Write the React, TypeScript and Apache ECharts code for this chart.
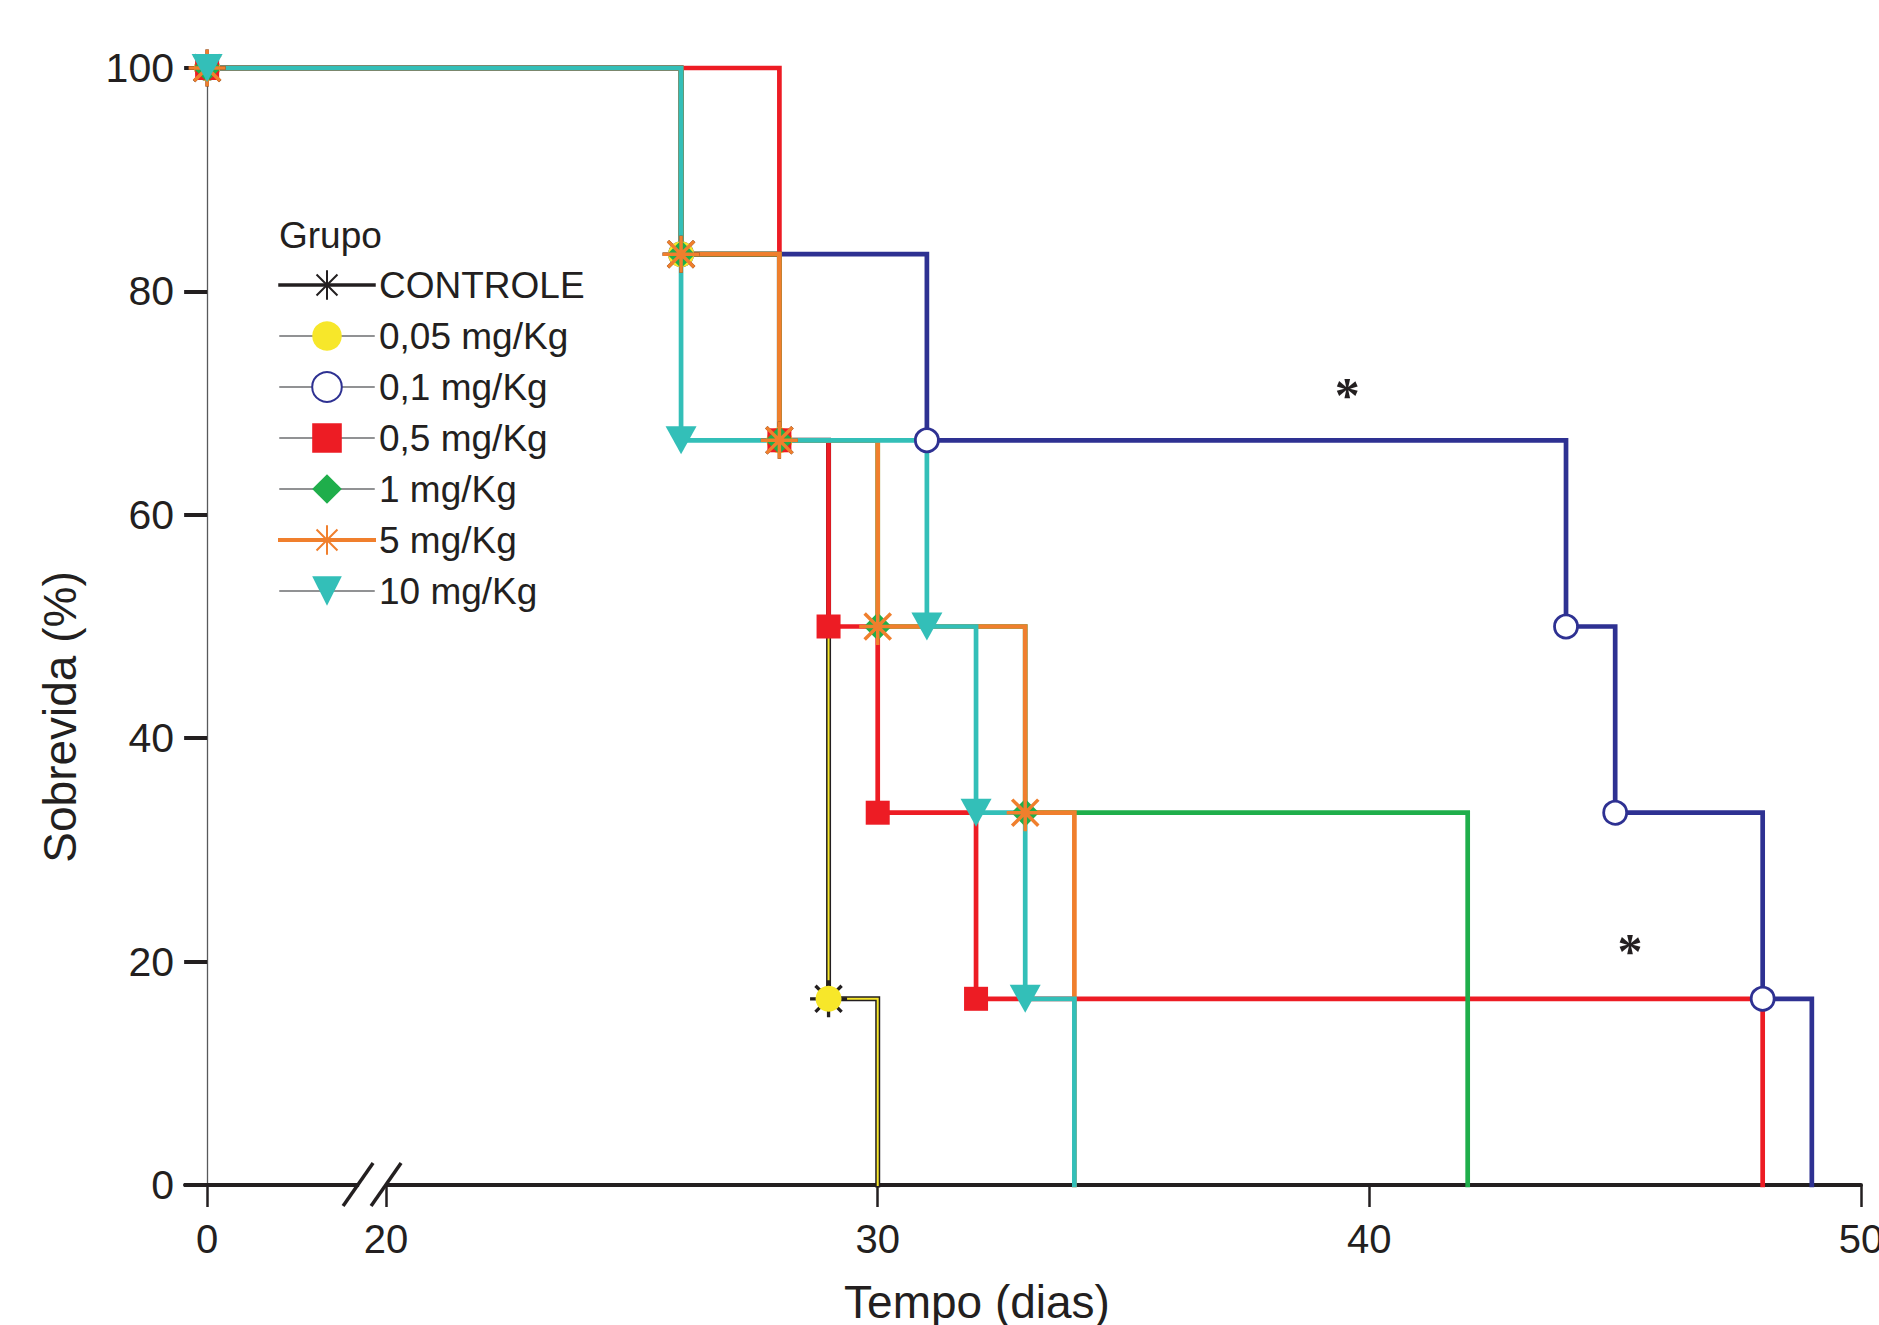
import React, { useEffect, useRef } from "react";
import * as echarts from "echarts";

// ---------- data ----------
const groupNames = ["CONTROLE", "0,05 mg/Kg", "0,1 mg/Kg", "0,5 mg/Kg", "1 mg/Kg", "5 mg/Kg", "10 mg/Kg"];

const controleDays = [0, 26, 28, 29, 30];
const controleSurv = [100, 83.33, 66.67, 16.67, 0];
const dose005Days = [0, 26, 28, 29, 30];
const dose005Surv = [100, 83.33, 66.67, 16.67, 0];
const dose01Days = [0, 26, 31, 44, 45, 48, 49];
const dose01Surv = [100, 83.33, 66.67, 50, 33.33, 16.67, 0];
const dose05Days = [0, 28, 29, 30, 32, 48];
const dose05Surv = [100, 66.67, 50, 33.33, 16.67, 0];
const dose1Days = [0, 26, 28, 30, 33, 42];
const dose1Surv = [100, 83.33, 66.67, 50, 33.33, 0];
const dose5Days = [0, 26, 28, 30, 33, 34];
const dose5Surv = [100, 83.33, 66.67, 50, 33.33, 0];
const dose10Days = [0, 26, 31, 32, 33, 34];
const dose10Surv = [100, 66.67, 50, 33.33, 16.67, 0];

const xTickDays = [0, 20, 30, 40, 50];
const yTickValues = [0, 20, 40, 60, 80, 100];
const annotationDays = [39.55, 45.3];
const annotationSurv = [71.6, 21.8];
const annotationTexts = ["*", "*"];

// ---------- axis break (0..20 compressed) ----------
const BREAK_DAY = 20;
const BREAK_SPAN = 3.64;
function tx(d: number): number {
  return d <= BREAK_DAY ? (d * BREAK_SPAN) / BREAK_DAY : BREAK_SPAN + (d - BREAK_DAY);
}

// ---------- styles ----------
const FONT = '"Liberation Sans", Arial, Helvetica, sans-serif';
const INK = "#231f20";
const C_NAVY = "#2e3192";
const C_RED = "#ed1c24";
const C_GREEN = "#1fae4b";
const C_ORANGE = "#f07f2d";
const C_TEAL = "#33bfb8";
const C_YELLOW = "#f7e72a";
const C_LEGLINE = "#6d6e71";

const ASTERISK = "path://M10,0L10,20M0,10L20,10M2.93,2.93L17.07,17.07M2.93,17.07L17.07,2.93";
const TRI_DOWN = "path://M0,0L20,0L10,18Z";

type GroupStyle = {
  line: string;
  lineWidth: number;
  symbol: string;
  size: number | number[];
  fill: string;
  border: string;
  borderWidth: number;
  legendLine: { color: string; width: number };
};

const groupStyles: Record<string, GroupStyle> = {
  "CONTROLE": { line: INK, lineWidth: 5, symbol: ASTERISK, size: 37, fill: INK, border: INK, borderWidth: 3.3, legendLine: { color: INK, width: 3.5 } },
  "0,05 mg/Kg": { line: C_YELLOW, lineWidth: 2, symbol: "circle", size: 26, fill: C_YELLOW, border: C_YELLOW, borderWidth: 0, legendLine: { color: C_LEGLINE, width: 1.5 } },
  "0,1 mg/Kg": { line: C_NAVY, lineWidth: 4.7, symbol: "circle", size: 23, fill: "#ffffff", border: C_NAVY, borderWidth: 2.8, legendLine: { color: C_LEGLINE, width: 1.5 } },
  "0,5 mg/Kg": { line: C_RED, lineWidth: 4.7, symbol: "rect", size: 24, fill: C_RED, border: C_RED, borderWidth: 0, legendLine: { color: C_LEGLINE, width: 1.5 } },
  "1 mg/Kg": { line: C_GREEN, lineWidth: 4.7, symbol: "diamond", size: 28, fill: C_GREEN, border: C_GREEN, borderWidth: 0, legendLine: { color: C_LEGLINE, width: 1.5 } },
  "5 mg/Kg": { line: C_ORANGE, lineWidth: 4.7, symbol: ASTERISK, size: 37, fill: C_ORANGE, border: C_ORANGE, borderWidth: 3.5, legendLine: { color: C_ORANGE, width: 4 } },
  "10 mg/Kg": { line: C_TEAL, lineWidth: 4.7, symbol: TRI_DOWN, size: [31, 28], fill: C_TEAL, border: C_TEAL, borderWidth: 0, legendLine: { color: C_LEGLINE, width: 1.5 } },
};

const groupData: Record<string, { days: number[]; surv: number[] }> = {
  "CONTROLE": { days: controleDays, surv: controleSurv },
  "0,05 mg/Kg": { days: dose005Days, surv: dose005Surv },
  "0,1 mg/Kg": { days: dose01Days, surv: dose01Surv },
  "0,5 mg/Kg": { days: dose05Days, surv: dose05Surv },
  "1 mg/Kg": { days: dose1Days, surv: dose1Surv },
  "5 mg/Kg": { days: dose5Days, surv: dose5Surv },
  "10 mg/Kg": { days: dose10Days, surv: dose10Surv },
};

// drawing order (bottom to top)
const drawOrder = ["0,1 mg/Kg", "CONTROLE", "0,05 mg/Kg", "0,5 mg/Kg", "1 mg/Kg", "5 mg/Kg", "10 mg/Kg"];

function buildSeries(name: string) {
  const st = groupStyles[name];
  const { days, surv } = groupData[name];
  const data = days.map((d, i) => {
    const item: any = { value: [tx(d), surv[i]] };
    if (i === days.length - 1) item.symbol = "none";
    return item;
  });
  return {
    type: "line",
    name,
    step: "end",
    data,
    clip: false,
    symbol: st.symbol,
    symbolSize: st.size,
    symbolKeepAspect: false,
    showSymbol: true,
    lineStyle: { color: st.line, width: st.lineWidth, cap: "square", join: "miter" },
    itemStyle: { color: st.fill, borderColor: st.border, borderWidth: st.borderWidth, opacity: 1 },
    emphasis: { disabled: true },
    silent: true,
  };
}

export default function App() {
  const ref = useRef<HTMLDivElement>(null);

  useEffect(() => {
    if (!ref.current) return;
    const chart = echarts.init(ref.current, undefined, { renderer: "svg" });

    const xTickPos = xTickDays.map(tx);

    const option: any = {
      animation: false,
      backgroundColor: "#ffffff",
      grid: { left: 185, right: 18, top: 68, bottom: 140, containLabel: false, outerBoundsMode: "none" },
      xAxis: {
        type: "value",
        min: -0.45,
        max: tx(50),
        axisLine: { show: true, onZero: false, lineStyle: { color: INK, width: 4 } },
        axisTick: { show: true, customValues: xTickPos, length: 22, lineStyle: { color: INK, width: 2.5 } },
        axisLabel: {
          show: true,
          customValues: xTickPos,
          margin: 34,
          fontSize: 40,
          fontFamily: FONT,
          color: INK,
          formatter: (v: number) => {
            const i = xTickDays.findIndex((d) => Math.abs(tx(d) - v) < 1e-6);
            return i >= 0 ? String(xTickDays[i]) : "";
          },
        },
        splitLine: { show: false },
      },
      yAxis: {
        type: "value",
        min: 0,
        max: 100,
        interval: 20,
        axisLine: { show: true, onZero: true, lineStyle: { color: "#58595b", width: 1.3 } },
        axisTick: { show: true, customValues: yTickValues, length: 23, lineStyle: { color: INK, width: 4 } },
        axisLabel: { show: true, customValues: yTickValues, margin: 11, fontSize: 41, fontFamily: FONT, color: INK },
        splitLine: { show: false },
      },
      legend: {
        show: true,
        orient: "vertical",
        left: 273,
        top: 260,
        padding: 5,
        itemWidth: 94,
        itemHeight: 37,
        itemGap: 11,
        selectedMode: false,
        textStyle: { fontSize: 37, fontFamily: FONT, color: INK, lineHeight: 40 },
        data: groupNames.map((name) => ({ name, lineStyle: groupStyles[name].legendLine })),
      },
      series: drawOrder.map(buildSeries),
    };

    chart.setOption(option);

    const p20 = chart.convertToPixel({ gridIndex: 0 }, [tx(20), 0]) as number[];
    const bx = p20[0];
    const by = p20[1];

    const annotations = annotationDays.map((d, i) => {
      const p = chart.convertToPixel({ gridIndex: 0 }, [tx(d), annotationSurv[i]]) as number[];
      return {
        type: "text",
        x: p[0],
        y: p[1] + 10,
        z: 100,
        style: {
          text: annotationTexts[i],
          fontSize: 50,
          fontWeight: "bold",
          fontFamily: '"Liberation Serif", "Times New Roman", serif',
          fill: INK,
          align: "center",
          verticalAlign: "middle",
          textAlign: "center",
          textVerticalAlign: "middle",
        },
      };
    });

    chart.setOption({
      graphic: [
        // gap in the x axis line
        { type: "rect", z: 50, shape: { x: bx - 27, y: by - 5, width: 26, height: 10 }, style: { fill: "#ffffff" } },
        { type: "line", z: 51, shape: { x1: bx - 43, y1: by + 21, x2: bx - 13, y2: by - 22 }, style: { stroke: INK, lineWidth: 3.5 } },
        { type: "line", z: 51, shape: { x1: bx - 15, y1: by + 21, x2: bx + 15, y2: by - 22 }, style: { stroke: INK, lineWidth: 3.5 } },
        {
          type: "text",
          x: 279,
          y: 235,
          style: { text: "Grupo", fontSize: 37, fontFamily: FONT, fill: INK, align: "left", verticalAlign: "middle", textAlign: "left", textVerticalAlign: "middle" },
        },
        {
          type: "text",
          x: 60,
          y: 717,
          rotation: Math.PI / 2,
          style: { text: "Sobrevida (%)", fontSize: 46, fontFamily: FONT, fill: INK, align: "center", verticalAlign: "middle", textAlign: "center", textVerticalAlign: "middle" },
        },
        {
          type: "text",
          x: 977,
          y: 1302,
          style: { text: "Tempo (dias)", fontSize: 46, fontFamily: FONT, fill: INK, align: "center", verticalAlign: "middle", textAlign: "center", textVerticalAlign: "middle" },
        },
        ...annotations,
      ],
    });

    return () => {
      chart.dispose();
    };
  }, []);

  return (
    <div
      ref={ref}
      style={{ position: "absolute", left: 0, top: 0, width: 1879, height: 1325, background: "#ffffff" }}
    />
  );
}
